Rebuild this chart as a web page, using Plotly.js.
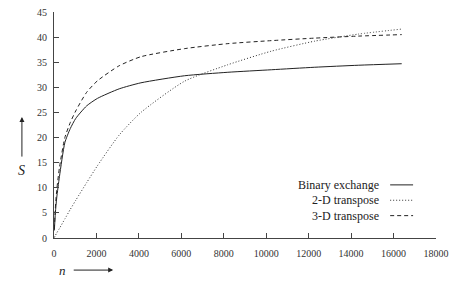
<!DOCTYPE html>
<html>
<head>
<meta charset="utf-8">
<script src="https://cdn.plot.ly/plotly-3.0.1.min.js"></script>
<style>
  html, body { margin: 0; padding: 0; background: #fff; }
  #chart { width: 455px; height: 284px; }
</style>
</head>
<body>
<div id="chart"></div>
<script>
// Problem size n (shared by all three formulations)
const problemSize = [16, 64, 128, 256, 512, 768, 1024, 1536, 2048, 3072, 4096, 6144, 8192, 10240, 12288, 14336, 16384];

// Speedup S for each formulation
const binaryExchange = [1.5, 5.0, 8.0, 12.2, 19.0, 21.8, 23.8, 26.3, 27.8, 29.7, 30.9, 32.3, 33.0, 33.5, 34.0, 34.4, 34.7];
const transpose2D    = [0.1, 0.5, 1.0, 1.9, 3.8, 5.7, 7.5, 11.0, 14.4, 20.5, 25.0, 31.2, 34.5, 37.2, 39.2, 40.6, 41.6];
const transpose3D    = [1.8, 6.0, 9.5, 14.0, 20.0, 23.0, 25.3, 29.0, 31.3, 34.3, 36.1, 37.7, 38.7, 39.3, 39.8, 40.2, 40.5];

const seriesNames = ['Binary exchange', '2-D transpose', '3-D transpose'];
const seriesDash  = ['solid', '1px,2px', '4px,3px'];
const seriesColor = ['#222', '#333', '#222'];
const xTicks = [0, 2000, 4000, 6000, 8000, 10000, 12000, 14000, 16000, 18000];
const yTicks = [0, 5, 10, 15, 20, 25, 30, 35, 40, 45];

const ink = '#222';
const serif = 'Liberation Serif, Times New Roman, serif';

const seriesValues = [binaryExchange, transpose2D, transpose3D];
const traces = seriesValues.map((vals, i) => ({
  x: problemSize,
  y: vals,
  name: seriesNames[i],
  type: 'scatter',
  mode: 'lines',
  line: { color: seriesColor[i], width: 1, dash: seriesDash[i], shape: 'spline', smoothing: 0.6 },
  showlegend: false,
  hoverinfo: 'skip'
}));

// Key: label right-aligned, line sample to its right
const annotations = [];
const shapes = [];
const keyTop = 0.235, keyStep = 0.068;
seriesNames.forEach((name, i) => {
  const yk = keyTop - i * keyStep;
  annotations.push({
    xref: 'paper', yref: 'paper', x: 0.857, y: yk,
    xanchor: 'right', yanchor: 'middle', showarrow: false,
    text: name, font: { family: serif, size: 12, color: ink }
  });
  shapes.push({
    type: 'line', xref: 'paper', yref: 'paper',
    x0: 0.88, x1: 0.94, y0: yk, y1: yk,
    line: { color: seriesColor[i], width: 1, dash: seriesDash[i] }
  });
});

// Axis titles with arrows
annotations.push(
  { xref: 'paper', yref: 'paper', x: -0.084, y: 0.30, xanchor: 'center', yanchor: 'middle',
    showarrow: false, text: '<i>S</i>', font: { family: serif, size: 14, color: ink } },
  { xref: 'paper', yref: 'paper', x: -0.084, y: 0.535, ax: 0, ay: 41,
    showarrow: true, arrowhead: 2, arrowsize: 1, arrowwidth: 1, arrowcolor: ink, text: '' },
  { xref: 'paper', yref: 'paper', x: 0.021, y: -0.146, xanchor: 'center', yanchor: 'middle',
    showarrow: false, text: '<i>n</i>', font: { family: serif, size: 13, color: ink } },
  { xref: 'paper', yref: 'paper', x: 0.155, y: -0.142, ax: -41, ay: 0,
    showarrow: true, arrowhead: 2, arrowsize: 1, arrowwidth: 1, arrowcolor: ink, text: '' }
);

const axisCommon = {
  showgrid: false, zeroline: false, showline: true,
  linecolor: '#444', linewidth: 1,
  ticks: 'inside', ticklen: 5, tickwidth: 1, tickcolor: '#444',
  tickfont: { family: serif, size: 10, color: '#333' },
  tickmode: 'array', fixedrange: true
};

const layout = {
  width: 455, height: 284,
  margin: { l: 54, r: 19, t: 12, b: 46 },
  paper_bgcolor: '#fff', plot_bgcolor: '#fff',
  xaxis: Object.assign({}, axisCommon, {
    range: [0, 18000], tickvals: xTicks, ticktext: xTicks.map(String), ticklabelstandoff: 6
  }),
  yaxis: Object.assign({}, axisCommon, {
    range: [0, 45], tickvals: yTicks, ticktext: yTicks.map(String), ticklabelstandoff: 4
  }),
  annotations: annotations,
  shapes: shapes,
  showlegend: false
};

Plotly.newPlot('chart', traces, layout, { staticPlot: true, displayModeBar: false });
</script>
</body>
</html>
